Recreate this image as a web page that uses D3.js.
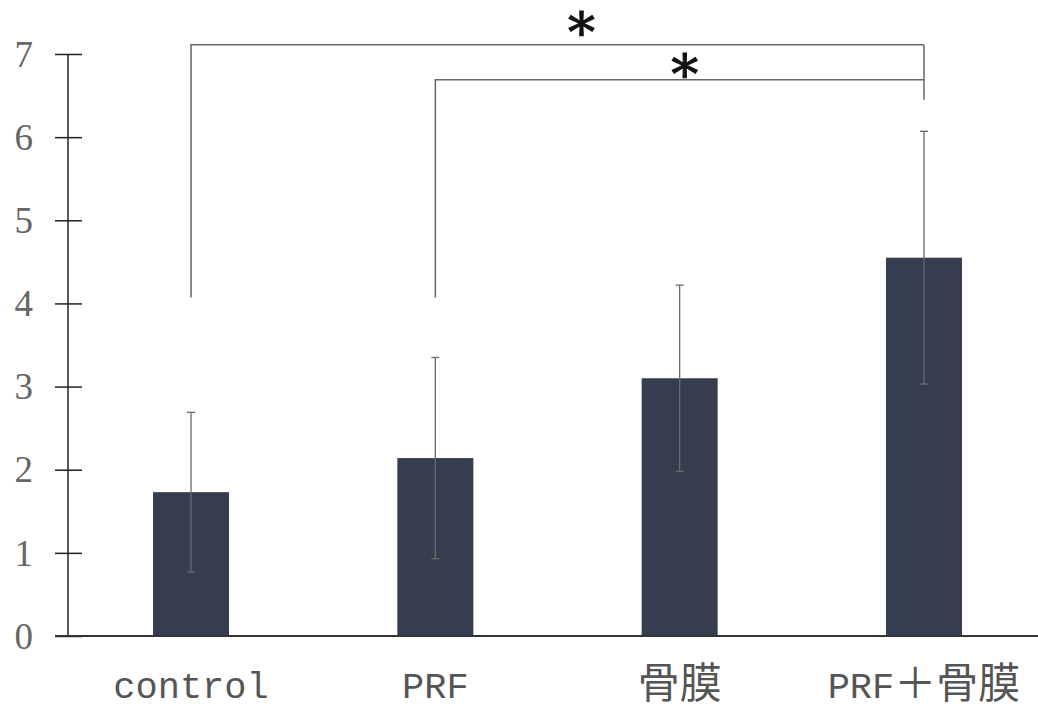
<!DOCTYPE html>
<html>
<head>
<meta charset="utf-8">
<script src="https://cdn.jsdelivr.net/npm/d3@7"></script>
<style>
html,body{margin:0;padding:0;background:#fff;}
</style>
</head>
<body>
<div id="bar"></div>
<script>
(function(){

const categories = ["control","PRF","骨膜","PRF＋骨膜"];
const means = [1.73, 2.14, 3.10, 4.55];
const sds = [0.96, 1.21, 1.12, 1.52];
const yTicks = [0,1,2,3,4,5,6,7];
// significance brackets: from, to, bracket height, left leg end
const sigFrom = ["control","PRF"];
const sigTo = ["PRF＋骨膜","PRF＋骨膜"];
const sigLevel = [7.11, 6.69];
const sigLegEnd = [4.07, 4.07];
const sigRightEnd = 6.45;

const width = 1038;
const height = 719;

const svg = d3.select("#bar")
.append("svg")
.attr("width",width)
.attr("height",height)
.attr("viewBox",`0 0 ${width} ${height}`);

const x = d3.scaleBand()
.domain(categories)
.range([68,1047])
.paddingInner(0.689)
.paddingOuter(0.348);

const y = d3.scaleLinear()
.domain([0,7])
.range([636,54]);

const cx = d=>x(d)+x.bandwidth()/2;

// bars
svg.selectAll("rect.bar")
.data(categories)
.enter()
.append("rect")
.attr("class","bar")
.attr("x",d=>x(d))
.attr("y",(d,i)=>y(means[i]))
.attr("width",x.bandwidth())
.attr("height",(d,i)=>y(0)-y(means[i]))
.attr("fill","#343e4f");

// error bars
const eb = svg.append("g").attr("stroke","#6a6a6a").attr("stroke-width",1.3);
categories.forEach((c,i)=>{
  const top = y(means[i]+sds[i]), bot = y(means[i]-sds[i]);
  eb.append("line").attr("x1",cx(c)).attr("x2",cx(c)).attr("y1",top).attr("y2",bot);
  eb.append("line").attr("x1",cx(c)-4).attr("x2",cx(c)+4).attr("y1",top).attr("y2",top);
  eb.append("line").attr("x1",cx(c)-4).attr("x2",cx(c)+4).attr("y1",bot).attr("y2",bot);
});

// y axis
const yAxis = svg.append("g")
.attr("transform","translate(68,0)")
.call(d3.axisLeft(y).tickValues(yTicks).tickFormat(d3.format("d")).tickSize(13).tickPadding(22));
yAxis.select(".domain").attr("stroke","#222").attr("stroke-width",1.5).attr("d",`M0,${y(7)}V${y(0)}`);
yAxis.selectAll(".tick line").attr("x1",-13).attr("x2",14).attr("stroke","#222").attr("stroke-width",1.5);
yAxis.selectAll(".tick text")
.attr("font-family","'Liberation Serif', serif")
.attr("font-size","37px")
.attr("fill","#666")
.attr("dy","0.33em");

// x axis line
svg.append("line")
.attr("x1",55).attr("x2",width)
.attr("y1",y(0)).attr("y2",y(0))
.attr("stroke","#333").attr("stroke-width",1.8);

// category labels
svg.selectAll("text.cat")
.data(categories)
.enter()
.append("text")
.attr("class","cat")
.attr("x",d=>cx(d))
.attr("y",698)
.attr("text-anchor","middle")
.attr("font-family","'Liberation Mono','Noto Sans CJK SC',monospace")
.attr("font-size","37px")
.attr("fill","#555")
.each(function(d){
  // CJK glyphs are drawn a bit larger in the reference
  const t = d3.select(this);
  d.split(/([\u4e00-\u9fff＋]+)/).filter(s=>s.length).forEach(s=>{
    const sp = t.append("tspan").text(s);
    if(/[\u4e00-\u9fff＋]/.test(s)) sp.attr("font-size","42px");
  });
});

// significance brackets
const br = svg.append("g").attr("stroke","#666").attr("stroke-width",1.5).attr("fill","none");
sigFrom.forEach((f,i)=>{
  const x1 = cx(f), x2 = cx(sigTo[i]), yl = y(sigLevel[i]);
  br.append("path").attr("d",`M${x1},${y(sigLegEnd[i])}V${yl}H${x2}`);
});
br.append("line")
.attr("x1",cx(sigTo[0])).attr("x2",cx(sigTo[0]))
.attr("y1",y(sigLevel[0])).attr("y2",y(sigRightEnd));

// asterisks
sigFrom.forEach((f,i)=>{
  const mid = (cx(f)+cx(sigTo[i]))/2;
  svg.append("text")
  .attr("x",mid+(i===0?24:5))
  .attr("y",y(sigLevel[i])+(i===0?7:14))
  .attr("text-anchor","middle")
  .attr("font-family","'DejaVu Serif', serif")
  .attr("font-size","54px")
  .attr("fill","#111")
  .attr("stroke","#111")
  .attr("stroke-width",1)
  .text("*");
});

})();
</script>
</body>
</html>
